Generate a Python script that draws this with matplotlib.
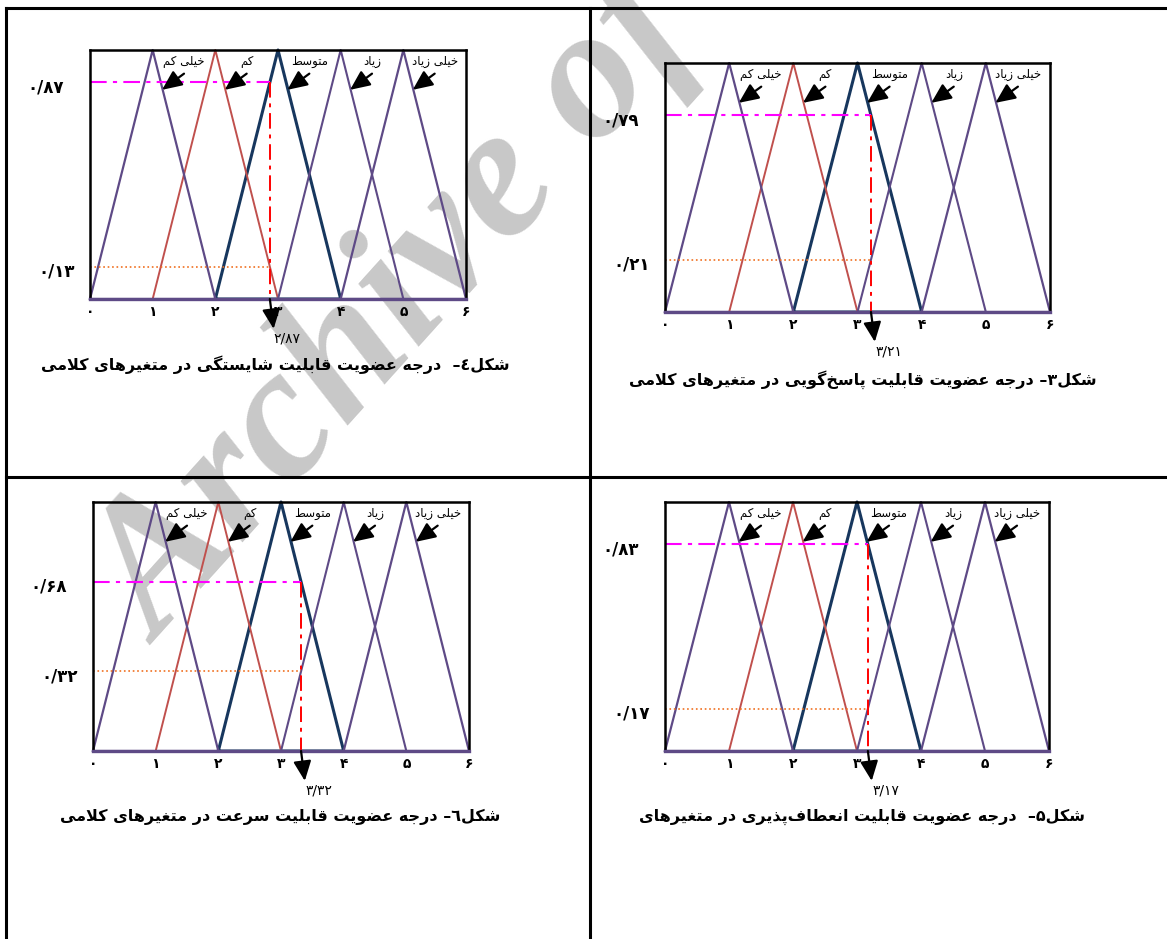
import matplotlib
matplotlib.use("Agg")
import matplotlib.pyplot as plt
from matplotlib.lines import Line2D

# membership functions (triangles on 0..6)
mf_names = ["خیلی کم", "کم", "متوسط", "زیاد", "خیلی زیاد"]
mf_left = [0, 1, 2, 3, 4]
mf_peak = [1, 2, 3, 4, 5]
mf_right = [2, 3, 4, 5, 6]
mf_colors = ["#5e4a86", "#c0504d", "#17375e", "#5e4a86", "#5e4a86"]
mf_widths = [1.6, 1.4, 2.2, 1.5, 1.6]
draw_order = [2, 1, 0, 3, 4]

x_ticks = [0, 1, 2, 3, 4, 5, 6]
x_tick_text = ["۰", "۱", "۲", "۳", "۴", "۵", "۶"]

# panels: figure 3, 4, 5, 6
captions = [
    "شکل۳– درجه عضویت قابلیت پاسخ‌گویی در متغیرهای کلامی",
    "شکل٤–  درجه عضویت قابلیت شایستگی در متغیرهای کلامی",
    "شکل۵–  درجه عضویت قابلیت انعطاف‌پذیری در متغیرهای",
    "شکل٦– درجه عضویت قابلیت سرعت در متغیرهای کلامی",
]
crisp_in = [3.21, 2.87, 3.17, 3.32]
crisp_text = ["۳/۲۱", "۲/۸۷", "۳/۱۷", "۳/۳۲"]
mu_high = [0.79, 0.87, 0.83, 0.68]
mu_high_text = ["۰/۷۹", "۰/۸۷", "۰/۸۳", "۰/۶۸"]
mu_low = [0.21, 0.13, 0.17, 0.32]
mu_low_text = ["۰/۲۱", "۰/۱۳", "۰/۱۷", "۰/۳۲"]

# layout in pixels
W, H = 1167, 939
axes_px = [(665, 63, 1050, 312), (90, 50, 466, 299), (665, 502, 1049, 751), (93, 502, 469, 751)]
caption_px = [(1097, 380), (510, 365), (1085, 817), (500, 817)]

FORMS = {
    "ا": "\uFE8D\uFE8E", "د": "\uFEA9\uFEAA", "ذ": "\uFEAB\uFEAC",
    "ر": "\uFEAD\uFEAE", "ز": "\uFEAF\uFEB0", "و": "\uFEED\uFEEE",
    "لا": "\uFEFB\uFEFC",
    "ب": "\uFE8F\uFE90\uFE91\uFE92", "پ": "\uFB56\uFB57\uFB58\uFB59",
    "ت": "\uFE95\uFE96\uFE97\uFE98", "ج": "\uFE9D\uFE9E\uFE9F\uFEA0",
    "خ": "\uFEA5\uFEA6\uFEA7\uFEA8", "س": "\uFEB1\uFEB2\uFEB3\uFEB4",
    "ش": "\uFEB5\uFEB6\uFEB7\uFEB8", "ض": "\uFEBD\uFEBE\uFEBF\uFEC0",
    "ط": "\uFEC1\uFEC2\uFEC3\uFEC4", "ع": "\uFEC9\uFECA\uFECB\uFECC",
    "غ": "\uFECD\uFECE\uFECF\uFED0", "ف": "\uFED1\uFED2\uFED3\uFED4",
    "ق": "\uFED5\uFED6\uFED7\uFED8", "ک": "\uFB8E\uFB8F\uFB90\uFB91",
    "گ": "\uFB92\uFB93\uFB94\uFB95", "ل": "\uFEDD\uFEDE\uFEDF\uFEE0",
    "م": "\uFEE1\uFEE2\uFEE3\uFEE4", "ن": "\uFEE5\uFEE6\uFEE7\uFEE8",
    "ه": "\uFEE9\uFEEA\uFEEB\uFEEC", "ی": "\uFBFC\uFBFD\uFBFE\uFBFF",
}


def shape(text):
    # crude persian shaping + rtl reversal (matplotlib has no bidi)
    chars = []
    i = 0
    while i < len(text):
        if text[i] == "ل" and i + 1 < len(text) and text[i + 1] == "ا":
            chars.append("لا")
            i += 2
        else:
            chars.append(text[i])
            i += 1
    out = []
    for k, c in enumerate(chars):
        f = FORMS.get(c)
        if f is None:
            if c != "\u200c":
                out.append(c)
            continue
        prev = chars[k - 1] if k > 0 else None
        nxt = chars[k + 1] if k + 1 < len(chars) else None
        jp = prev in FORMS and len(FORMS[prev]) == 4
        jn = len(f) == 4 and nxt in FORMS
        if jp and jn:
            out.append(f[3])
        elif jp:
            out.append(f[1])
        elif jn:
            out.append(f[2])
        else:
            out.append(f[0])
    return "".join(reversed(out))


def fx(x):
    return x / W


def fy(y):
    return 1 - y / H


arrow_kw = dict(arrowstyle="-|>,head_length=1.0,head_width=0.45", color="black",
                lw=1.6, mutation_scale=12, shrinkA=0, shrinkB=0)

fig = plt.figure(figsize=(W / 100, H / 100), dpi=100)

# watermark, behind everything
fig.text(fx(160), fy(645), "Archive of SID", rotation=48, rotation_mode="anchor",
         ha="left", va="baseline", fontsize=136, family="Liberation Serif",
         style="italic", weight="bold", color="#c8c8c8", zorder=-10)

# table lines
for (x0, y0, x1, y1) in [(6, 8, W, 8), (6, 8, 6, H), (590, 8, 590, H), (6, 477, W, 477)]:
    fig.add_artist(Line2D([fx(x0), fx(x1)], [fy(y0), fy(y1)], color="black", lw=2.2))

for p in range(4):
    l, t, r, b = axes_px[p]
    ax = fig.add_axes([fx(l), fy(b), fx(r - l), (b - t) / H])
    ax.set_facecolor("none")
    ax.set_xlim(0, 6)
    ax.set_ylim(0, 1)

    for k in draw_order:
        xs = [mf_left[k], mf_peak[k], mf_right[k], mf_left[k]]
        ax.plot(xs, [0, 1, 0, 0], color=mf_colors[k], lw=mf_widths[k], clip_on=False)

    for k in range(5):
        ax.text(mf_peak[k] + 0.5, 0.955, shape(mf_names[k]), ha="center", va="center",
                fontsize=8.5)
        ax.annotate("", xy=(mf_peak[k] + 0.15, 0.84), xytext=(mf_peak[k] + 0.5, 0.905),
                    arrowprops=arrow_kw)

    x0 = crisp_in[p]
    ax.plot([0, x0], [mu_high[p], mu_high[p]], color="#ff00ff", lw=1.5, dashes=(8, 3, 2, 3))
    ax.plot([0, x0], [mu_low[p], mu_low[p]], color="#f07020", lw=1.2, ls=":")
    ax.plot([x0, x0], [mu_high[p], 0], color="#ff0000", lw=1.4, dashes=(8, 3, 2, 3))

    ax.annotate("", xy=(x0 + 0.06, -0.12), xytext=(x0, 0), annotation_clip=False,
                arrowprops=arrow_kw)
    ax.text(x0 + 0.28, -0.16, crisp_text[p], ha="center", va="center", fontsize=10,
            clip_on=False)

    ax.annotate(mu_high_text[p], xy=(0, mu_high[p]), xycoords=("axes fraction", "data"),
                xytext=(-44, -5), textcoords="offset pixels", ha="center", va="center",
                fontsize=12, fontweight="bold")
    ax.annotate(mu_low_text[p], xy=(0, mu_low[p]), xycoords=("axes fraction", "data"),
                xytext=(-33, -5), textcoords="offset pixels", ha="center", va="center",
                fontsize=12, fontweight="bold")

    ax.set_xticks(x_ticks)
    ax.set_xticklabels(x_tick_text, fontweight="bold", fontsize=10)
    ax.set_yticks([])
    ax.tick_params(axis="x", length=0, pad=4)
    for s in ax.spines.values():
        s.set_linewidth(1.8)
        s.set_color("black")
    ax.spines["bottom"].set_color("#5e4a86")
    ax.spines["bottom"].set_linewidth(2.4)

    cx, cy = caption_px[p]
    fig.text(fx(cx), fy(cy), shape(captions[p]), ha="right", va="center",
             fontsize=11.5, fontweight="bold")

fig.savefig("out.png", dpi=100)
